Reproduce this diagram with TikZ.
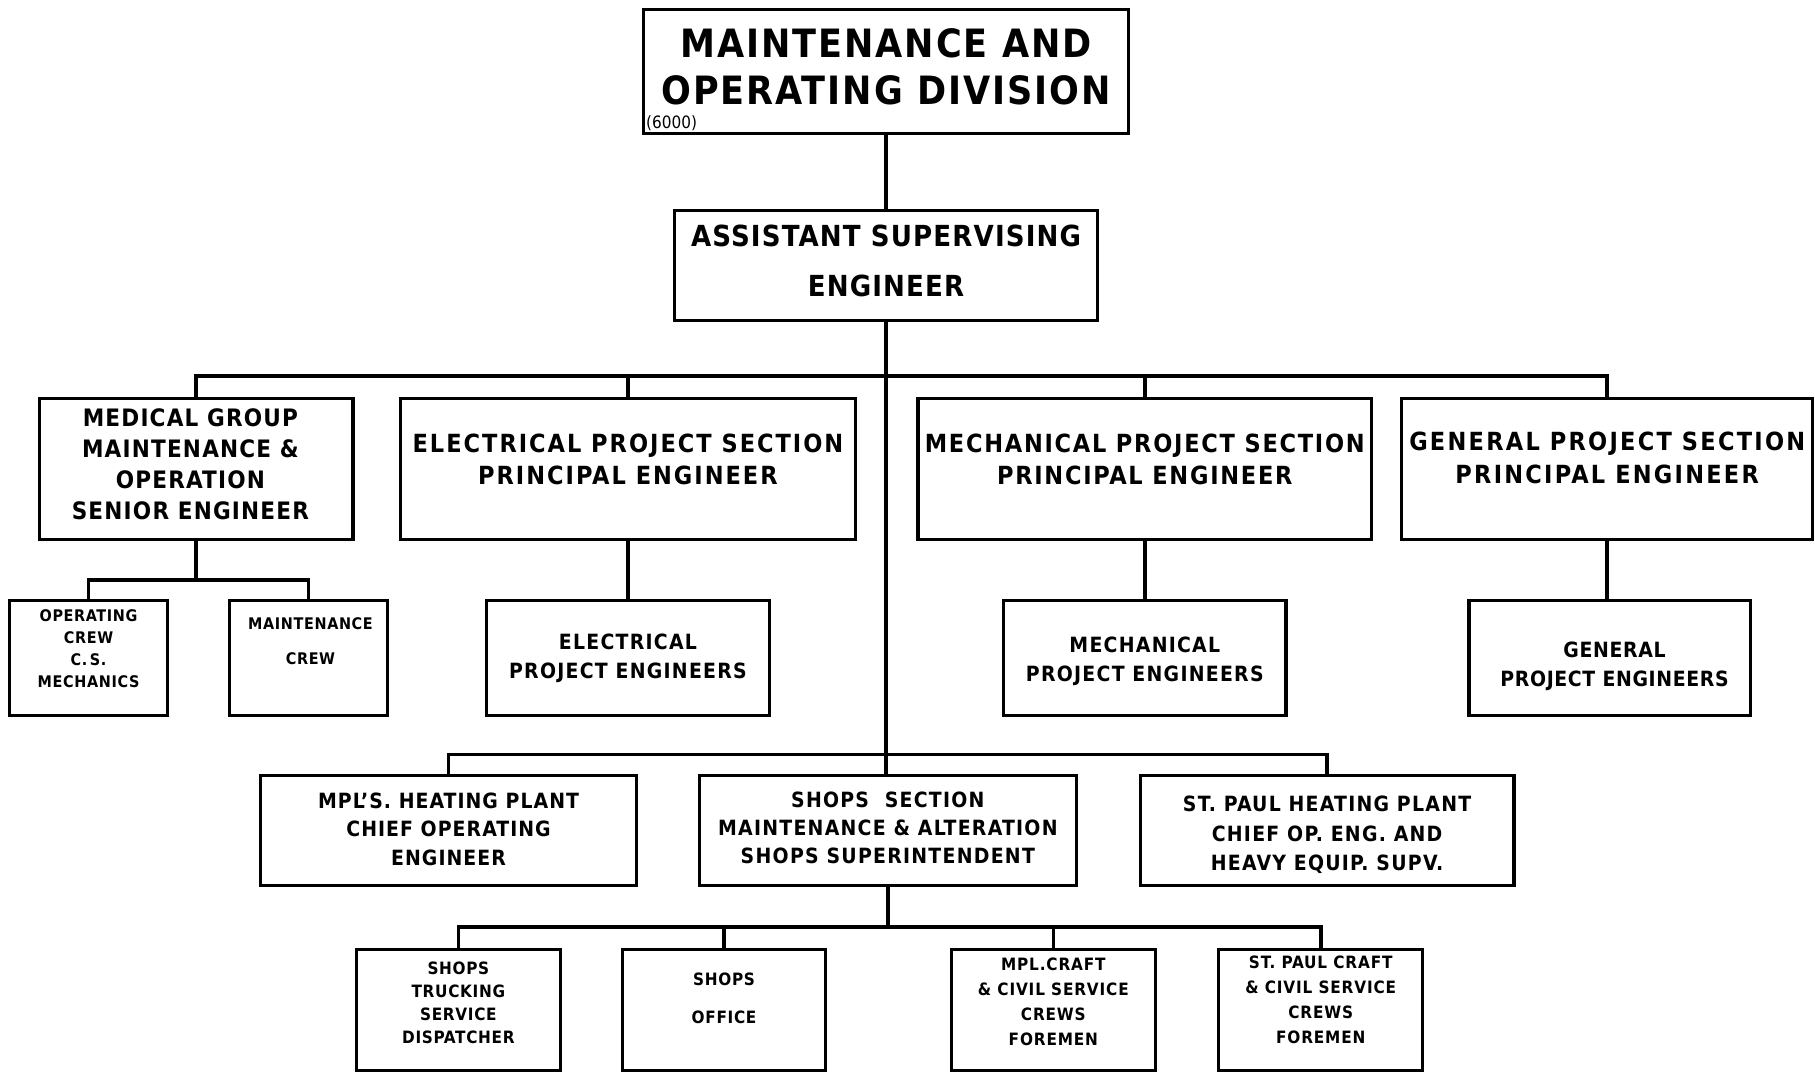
\documentclass[tikz,border=0pt]{standalone}
\usepackage{fontspec}
\setmainfont{DejaVu Sans Condensed}[BoldFont={* Bold}]

\tikzset{
  box/.style={draw, line width=3.2pt, inner sep=0pt},
  txt/.style={inner sep=0pt, align=center},
  link/.style={line width=3.5pt},
  fs/.style n args={3}{font=\bfseries\fontsize{#1}{#2}\selectfont\addfontfeature{LetterSpace=#3}}
}

\begin{document}
\begin{tikzpicture}[x=1.1575pt,y=-1.1575pt]
  \useasboundingbox (0,0) rectangle (1568,928);
  \def\pxs{1.1575pt}

  % top of the chart
  \node[box, minimum width=419*\pxs, minimum height=107*\pxs] (div) at (765.5,61.5) {};
  \node[txt, fs={39}{47.5}{5}] (div-t) at ([yshift=4.6pt]div) {MAINTENANCE AND\\OPERATING DIVISION};
  \node[anchor=south west, inner sep=0pt, font=\fontsize{17}{17}\selectfont] (code) at ([xshift=4pt,yshift=4pt]div.south west) {(6000)};
  \node[box, minimum width=365*\pxs, minimum height=95*\pxs] (ase) at (765.5,229.5) {};
  \node[txt, fs={29}{50}{4}] (ase-t) at ([yshift=4.6pt]ase) {ASSISTANT SUPERVISING\\ENGINEER};

  % sections
  \node[box, minimum width=271*\pxs, minimum height=122*\pxs] (med) at (169.5,405) {};
  \node[txt, fs={24}{31}{5}] (med-t) at ([xshift=-5.8pt,yshift=4.3pt]med) {MEDICAL GROUP\\MAINTENANCE \&\\OPERATION\\SENIOR ENGINEER};
  \node[box, minimum width=393*\pxs, minimum height=122*\pxs] (elec) at (542.5,405) {};
  \node[txt, fs={25}{32.5}{8}] (elec-t) at ([yshift=9.3pt]elec) {ELECTRICAL PROJECT SECTION\\PRINCIPAL ENGINEER};
  \node[box, minimum width=392*\pxs, minimum height=122*\pxs] (mech) at (989,405) {};
  \node[txt, fs={25}{32.5}{7}] (mech-t) at ([yshift=9.3pt]mech) {MECHANICAL PROJECT SECTION\\PRINCIPAL ENGINEER};
  \node[box, minimum width=355*\pxs, minimum height=122*\pxs] (gen) at (1388.5,405) {};
  \node[txt, fs={25}{32.5}{9}] (gen-t) at ([yshift=11pt]gen) {GENERAL PROJECT SECTION\\PRINCIPAL ENGINEER};

  % under the sections
  \node[box, minimum width=137*\pxs, minimum height=99*\pxs] (opcrew) at (76.5,568.5) {};
  \node[txt, fs={16}{22}{4}] (opcrew-t) at ([yshift=9pt]opcrew) {OPERATING\\CREW\\C.\,S.\\MECHANICS};
  \node[box, minimum width=137*\pxs, minimum height=99*\pxs] (mcrew) at (266.5,568.5) {};
  \node[txt, fs={16}{35}{4}] (mcrew-t) at ([xshift=2pt,yshift=16.8pt]mcrew) {MAINTENANCE\\CREW};
  \node[box, minimum width=245*\pxs, minimum height=99*\pxs] (eleceng) at (542.5,568.5) {};
  \node[txt, fs={21}{29}{6}] (eleceng-t) at (eleceng) {ELECTRICAL\\PROJECT ENGINEERS};
  \node[box, minimum width=244*\pxs, minimum height=99*\pxs] (mecheng) at (989,568.5) {};
  \node[txt, fs={21}{29}{6}] (mecheng-t) at ([yshift=-3.5pt]mecheng) {MECHANICAL\\PROJECT ENGINEERS};
  \node[box, minimum width=243*\pxs, minimum height=99*\pxs] (geneng) at (1390.5,568.5) {};
  \node[txt, fs={21}{29}{3}] (geneng-t) at ([xshift=5pt,yshift=-8pt]geneng) {GENERAL\\PROJECT ENGINEERS};

  % plants and shops
  \node[box, minimum width=325*\pxs, minimum height=95*\pxs] (mplheat) at (387.5,717.5) {};
  \node[txt, fs={21}{28.5}{5}] (mplheat-t) at ([yshift=1.4pt]mplheat) {MPL'S. HEATING PLANT\\CHIEF OPERATING\\ENGINEER};
  \node[box, minimum width=326*\pxs, minimum height=95*\pxs] (shops) at (767,717.5) {};
  \node[txt, fs={21}{28}{6}] (shops-t) at ([yshift=2.9pt]shops) {SHOPS\ \ SECTION\\MAINTENANCE \& ALTERATION\\SHOPS SUPERINTENDENT};
  \node[box, minimum width=323*\pxs, minimum height=95*\pxs] (spheat) at (1146.5,717.5) {};
  \node[txt, fs={21}{29.5}{6}] (spheat-t) at ([yshift=-4.4pt]spheat) {ST. PAUL HEATING PLANT\\CHIEF OP. ENG. AND\\HEAVY EQUIP. SUPV.};

  % shop crews
  \node[box, minimum width=176*\pxs, minimum height=105*\pxs] (truck) at (396,872.5) {};
  \node[txt, fs={17}{22.8}{4}] (truck-t) at ([yshift=7pt]truck) {SHOPS\\TRUCKING\\SERVICE\\DISPATCHER};
  \node[box, minimum width=175*\pxs, minimum height=105*\pxs] (office) at (625.5,872.5) {};
  \node[txt, fs={17}{38}{4}] (office-t) at ([yshift=11.6pt]office) {SHOPS\\OFFICE};
  \node[box, minimum width=176*\pxs, minimum height=105*\pxs] (mplcraft) at (910,872.5) {};
  \node[txt, fs={17}{24.7}{5}] (mplcraft-t) at ([yshift=8.1pt]mplcraft) {MPL.CRAFT\\\& CIVIL SERVICE\\CREWS\\FOREMEN};
  \node[box, minimum width=176*\pxs, minimum height=105*\pxs] (spcraft) at (1141,872.5) {};
  \node[txt, fs={17}{25}{5}] (spcraft-t) at ([yshift=9.8pt]spcraft) {ST. PAUL CRAFT\\\& CIVIL SERVICE\\CREWS\\FOREMEN};

  % connectors
  \coordinate (bus2) at (765.5,325);
  \coordinate (bus3) at (169.5,501);
  \coordinate (bus4) at (767,652);
  \coordinate (bus5) at (767,801);

  \draw[link] (div) -- (ase);
  \draw[link] (ase.south) -- (ase.south |- shops.north);
  \draw[link] (med.north) -- (med.north |- bus2) -- (gen.north |- bus2) -- (gen.north);
  \foreach \sec in {elec,mech}
    \draw[link] (\sec.north) -- (\sec.north |- bus2);

  \draw[link] (med.south) -- (bus3);
  \draw[link] (opcrew.north) -- (opcrew.north |- bus3) -- (mcrew.north |- bus3) -- (mcrew.north);
  \draw[link] (elec) -- (eleceng);
  \draw[link] (mech) -- (mecheng);
  \draw[link] (gen.south) -- (gen.south |- geneng.north);

  \draw[link] (mplheat.north) -- (mplheat.north |- bus4) -- (spheat.north |- bus4) -- (spheat.north);

  \draw[link] (shops.south) -- (bus5);
  \draw[link] (truck.north) -- (truck.north |- bus5) -- (spcraft.north |- bus5) -- (spcraft.north);
  \foreach \crew in {office,mplcraft}
    \draw[link] (\crew.north) -- (\crew.north |- bus5);
\end{tikzpicture}
\end{document}
